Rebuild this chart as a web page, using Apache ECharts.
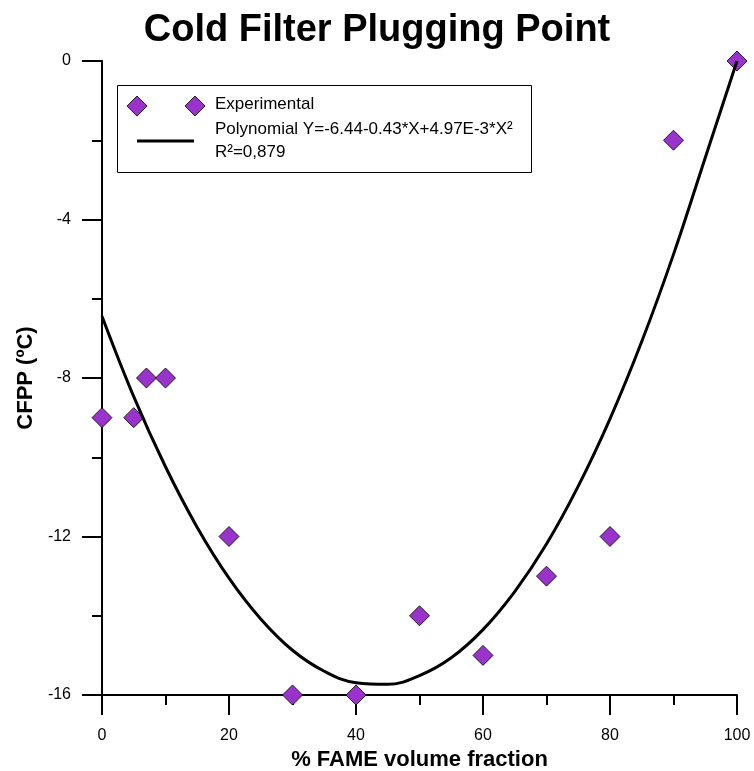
<!DOCTYPE html>
<html>
<head>
<meta charset="utf-8">
<script src="https://cdn.jsdelivr.net/npm/echarts@6/dist/echarts.min.js"></script>
<style>html,body{margin:0;padding:0;background:#fff;overflow:hidden;}#c{width:754px;height:771px;}</style>
</head>
<body>
<div id="c"></div>
<script>
const titleText = 'Cold Filter Plugging Point';
const xName = '% FAME volume fraction';
const yName = 'CFPP (ºC)';
const expX = [0, 5, 7, 10, 20, 30, 40, 50, 60, 70, 80, 90, 100];
const expY = [-9, -9, -8, -8, -12, -16, -16, -14, -15, -13, -12, -2, 0];
const fitX = [0, 5, 10, 15, 20, 25, 30, 35, 40, 45, 50, 55, 60, 65, 70, 75, 80, 85, 90, 95, 100];
const fitY = [-6.44, -8.47, -10.24, -11.77, -13.05, -14.08, -14.87, -15.40, -15.69, -15.73, -15.51, -15.06, -14.35, -13.39, -12.19, -10.73, -9.03, -7.08, -4.88, -2.44, 0];
const legendExp = 'Experimental';
const legendFit1 = 'Polynomial Y=-6.44-0.43*X+4.97E-3*X²';
const legendFit2 = 'R²=0,879';

const font = 'Arial, "Liberation Sans", sans-serif';
const purple = '#9933cc';
const chart = echarts.init(document.getElementById('c'));
const diamond = (cx, cy) => ({
  type: 'polygon',
  shape: { points: [[cx, cy - 10], [cx + 10, cy], [cx, cy + 10], [cx - 10, cy]] },
  style: { fill: purple, stroke: '#000', lineWidth: 0.8 }
});
chart.setOption({
  animation: false,
  backgroundColor: '#fff',
  title: {
    text: titleText, left: 'center', top: 7,
    textStyle: { fontFamily: font, fontSize: 38, fontWeight: 'bold', color: '#000' }
  },
  grid: { left: 102, width: 635, top: 61, height: 634, outerBoundsMode: 'none', containLabel: false },
  xAxis: {
    type: 'value', min: 0, max: 100, interval: 20,
    name: xName, nameLocation: 'middle', nameGap: 52,
    nameTextStyle: { fontFamily: font, fontSize: 22, fontWeight: 'bold', color: '#000' },
    axisLine: { onZero: false, lineStyle: { color: '#000', width: 2 } },
    axisTick: { length: 20, lineStyle: { color: '#000', width: 2 } },
    minorTick: { show: true, splitNumber: 2, length: 10, lineStyle: { color: '#000', width: 2 } },
    axisLabel: { margin: 33, fontFamily: font, fontSize: 16, color: '#000' },
    splitLine: { show: false }
  },
  yAxis: {
    type: 'value', min: -16, max: 0, interval: 4,
    name: yName, nameLocation: 'middle', nameGap: 65,
    nameTextStyle: { fontFamily: font, fontSize: 22, fontWeight: 'bold', color: '#000' },
    axisLine: { onZero: false, lineStyle: { color: '#000', width: 2 } },
    axisTick: { length: 20, lineStyle: { color: '#000', width: 2 } },
    minorTick: { show: true, splitNumber: 2, length: 10, lineStyle: { color: '#000', width: 2 } },
    axisLabel: { margin: 31, fontFamily: font, fontSize: 16, color: '#000' },
    splitLine: { show: false }
  },
  series: [
    {
      type: 'scatter', name: legendExp,
      data: expX.map((x, i) => [x, expY[i]]),
      symbol: 'diamond', symbolSize: 20,
      itemStyle: { color: purple, borderColor: '#000', borderWidth: 0.8, opacity: 1 },
      z: 2
    },
    {
      type: 'line', name: 'fit', smooth: 0.4, showSymbol: false,
      data: fitX.map((x, i) => [x, fitY[i]]),
      lineStyle: { color: '#000', width: 3 },
      z: 3
    }
  ],
  graphic: [
    { type: 'rect', shape: { x: 117.5, y: 85.5, width: 414, height: 87 },
      style: { fill: '#fff', stroke: '#000', lineWidth: 1 }, z: 10 },
    Object.assign(diamond(137, 106), { z: 11 }),
    Object.assign(diamond(195, 106), { z: 11 }),
    { type: 'line', shape: { x1: 137, y1: 141, x2: 194, y2: 141 },
      style: { stroke: '#000', lineWidth: 3 }, z: 11 },
    { type: 'text', left: 215, top: 96, z: 11,
      style: { text: legendExp, fontFamily: font, fontSize: 17, fill: '#000' } },
    { type: 'text', left: 215, top: 121, z: 11,
      style: { text: legendFit1, fontFamily: font, fontSize: 17, fill: '#000' } },
    { type: 'text', left: 215, top: 144, z: 11,
      style: { text: legendFit2, fontFamily: font, fontSize: 17, fill: '#000' } }
  ]
});
</script>
</body>
</html>
